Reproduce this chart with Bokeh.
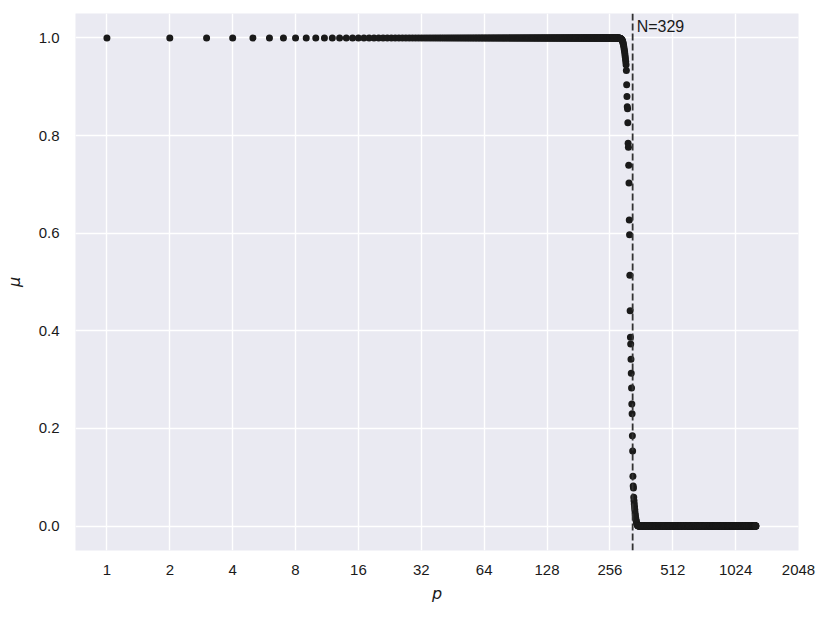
import numpy as np
from bokeh.plotting import figure
from bokeh.models import (Range1d, FixedTicker, PrintfTickFormatter, Span, Label,
                          ColumnDataSource)
from bokeh.embed import file_html
from bokeh.resources import INLINE

# ---- data ----
N = 329
p_max = 1280
plateau_high_count = 280          # p = 1..280, mu = 1
shoulder = [0.9999, 0.9998, 0.9997, 0.9996, 0.9995, 0.9993, 0.999, 0.9987,
            0.9983, 0.998, 0.997, 0.996, 0.995, 0.994, 0.992, 0.990, 0.987,
            0.984, 0.980, 0.976, 0.972, 0.967, 0.962, 0.957, 0.951, 0.945]
drop = [0.933, 0.904, 0.880, 0.859, 0.855, 0.826, 0.784, 0.776, 0.739, 0.703,
        0.627, 0.597, 0.514, 0.441, 0.387, 0.373, 0.342, 0.313, 0.283, 0.250,
        0.230, 0.185, 0.154, 0.102, 0.082, 0.078]
tail = [0.059, 0.052, 0.045, 0.039, 0.033, 0.027, 0.022, 0.018, 0.014, 0.011,
        0.008, 0.006, 0.004, 0.003, 0.002, 0.001, 0.0005, 0.0002]
x_ticks = [1, 2, 4, 8, 16, 32, 64, 128, 256, 512, 1024, 2048]
y_ticks = [0.0, 0.2, 0.4, 0.6, 0.8, 1.0]

mu_head = [1.0] * plateau_high_count + shoulder + drop + tail
mu = mu_head + [0.0] * (p_max - len(mu_head))
p_vals = list(range(1, p_max + 1))
src = ColumnDataSource(dict(p=p_vals, mu=mu))

FONT = "Liberation Sans"
BG = "#EAEAF2"

p = figure(width=830, height=619, x_axis_type="log",
           x_range=Range1d(2 ** -0.5, 2 ** 11), y_range=Range1d(-0.05, 1.05),
           output_backend="svg", toolbar_location=None,
           min_border_left=75, min_border_right=32, min_border_top=13,
           min_border_bottom=69)
p.background_fill_color = BG
p.border_fill_color = "white"
p.outline_line_color = None

p.scatter("p", "mu", source=src, size=7, color="#1a1a1a", line_color=None)

p.add_layout(Span(location=N, dimension="height", line_color="#333333",
                  line_width=1.8, line_dash="7 3"))
p.add_layout(Label(x=N, y=1.023, x_offset=4, text=f"N={N}",
                   text_baseline="middle", text_align="left",
                   text_font=FONT, text_font_size="16px", text_color="#1a1a1a"))

p.xaxis.ticker = FixedTicker(ticks=x_ticks, minor_ticks=[])
p.xaxis.formatter = PrintfTickFormatter(format="%d")
p.yaxis.ticker = FixedTicker(ticks=y_ticks, minor_ticks=[])
p.yaxis.formatter = PrintfTickFormatter(format="%.1f")

for ax in (p.xaxis, p.yaxis):
    ax.axis_line_color = None
    ax.major_tick_line_color = None
    ax.minor_tick_line_color = None
    ax.major_tick_out = 0
    ax.major_tick_in = 0
    ax.major_label_text_font = FONT
    ax.major_label_text_font_size = "15px"
    ax.major_label_text_color = "#1a1a1a"
    ax.axis_label_text_font = "DejaVu Sans"
    ax.axis_label_text_font_style = "italic"
    ax.axis_label_text_font_size = "16px"
    ax.axis_label_text_color = "#1a1a1a"

p.xaxis.axis_label = "p"
p.yaxis.axis_label = "μ"
p.xaxis.major_label_standoff = 14
p.yaxis.major_label_standoff = 16
p.xaxis.axis_label_standoff = 6
p.yaxis.axis_label_standoff = 12

p.xgrid.ticker = FixedTicker(ticks=x_ticks, minor_ticks=[])
p.ygrid.ticker = FixedTicker(ticks=y_ticks, minor_ticks=[])
for g in (p.xgrid, p.ygrid):
    g.grid_line_color = "white"
    g.grid_line_width = 1.4

open("out.html", "w").write(file_html(p, INLINE))
